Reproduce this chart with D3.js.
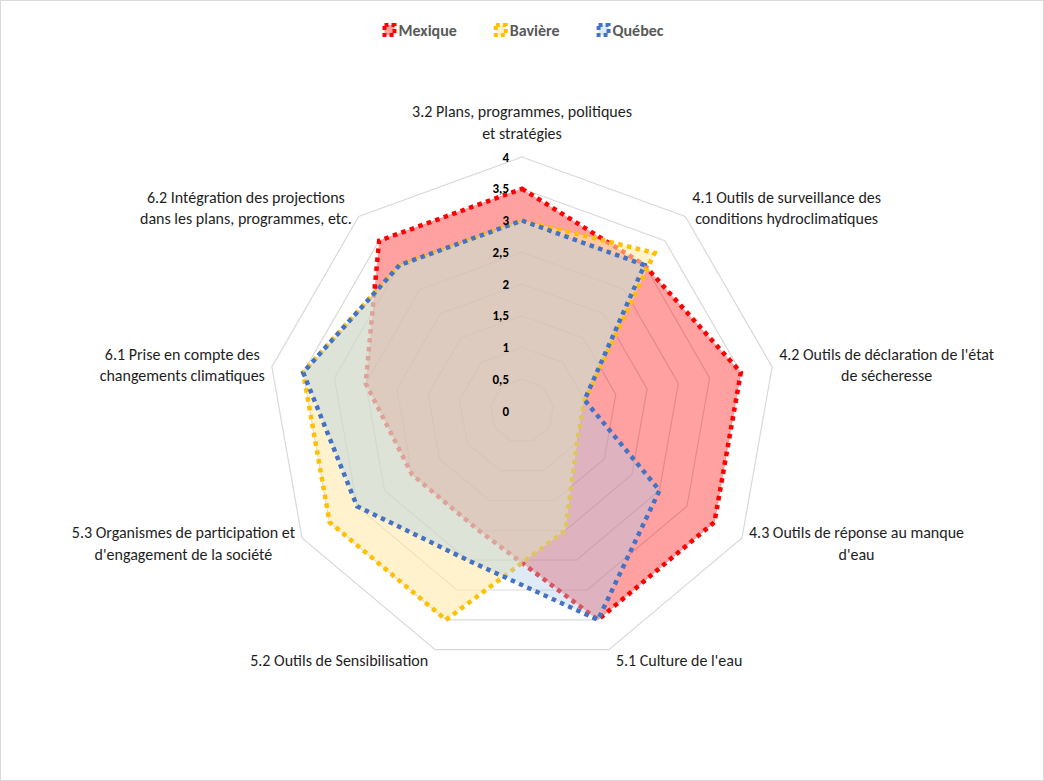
<!DOCTYPE html>
<html>
<head>
<meta charset="utf-8">
<script src="https://cdn.jsdelivr.net/npm/d3@7"></script>
<style>
  html, body { margin: 0; padding: 0; background: #fff; }
  svg { display: block; }
  text { font-family: Carlito, Lato, "Open Sans", sans-serif; }
</style>
</head>
<body>
<svg id="chart" width="1044" height="781"></svg>
<script>
// ---- Data ----
const categories = [
  ["3.2 Plans, programmes, politiques", "et stratégies"],
  ["4.1 Outils de surveillance des", "conditions hydroclimatiques"],
  ["4.2 Outils de déclaration de l'état", "de sécheresse"],
  ["4.3 Outils de réponse au manque", "d'eau"],
  ["5.1 Culture de l'eau"],
  ["5.2 Outils de Sensibilisation"],
  ["5.3 Organismes de participation et", "d'engagement de la société"],
  ["6.1 Prise en compte des", "changements climatiques"],
  ["6.2 Intégration des projections", "dans les plans, programmes, etc."]
];
const seriesNames = ["Mexique", "Bavière", "Québec"];
const mexique = [3.5, 3, 3.5, 3.5, 3.5, 2, 2, 2.5, 3.5];
const baviere = [3, 3.25, 1, 1, 2, 3.5, 3.5, 3.5, 3];
const quebec  = [3, 3, 1, 2.5, 3.5, 2.5, 3, 3.5, 3];
const tickValues = [0, 0.5, 1, 1.5, 2, 2.5, 3, 3.5, 4];
const tickLabels = ["0", "0,5", "1", "1,5", "2", "2,5", "3", "3,5", "4"];

// ---- Styles ----
const lineColors = ["#FF0000", "#FFC000", "#4472C4"];
const fillColors = ["#FF0000", "rgb(255,233,167)", "rgb(172,205,235)"];
const fillOpac   = [0.37, 0.58, 0.40];
const seriesData = [mexique, baviere, quebec];

const W = 1044, H = 781;
const cx = 522, cy = 411, R = 254;
const svg = d3.select("#chart");

svg.append("rect").attr("x", 0.5).attr("y", 0.5).attr("width", W - 1).attr("height", H - 1)
  .attr("fill", "#fff").attr("stroke", "#d9d9d9").attr("stroke-width", 1);

const n = categories.length;
const rScale = d3.scaleLinear().domain([0, 4]).range([0, R]);
const angle = d3.scalePoint().domain(d3.range(n + 1)).range([0, 2 * Math.PI]);
const pt = (i, v) => {
  const a = angle(i % n);
  return [cx + rScale(v) * Math.sin(a), cy - rScale(v) * Math.cos(a)];
};

// font fitting helper
function fitSize(str, weight, target) {
  const t = svg.append("text").attr("font-size", 100).attr("font-weight", weight).text(str);
  const w = t.node().getComputedTextLength();
  t.remove();
  return 100 * target / w;
}
const labelSize = Math.min(16, fitSize("3.2 Plans, programmes, politiques", "normal", 247));
const legendSize = Math.min(16, fitSize("Mexique", "bold", 65));
const tickSize = 13;

// ---- Grid rings ----
const gridG = svg.append("g");
tickValues.filter(v => v > 0).forEach(v => {
  const pts = d3.range(n).map(i => pt(i, v));
  gridG.append("polygon")
    .attr("points", pts.map(p => p.join(",")).join(" "))
    .attr("fill", "none").attr("stroke", "#d9d9d9").attr("stroke-width", 1.2);
});

// ---- Series ----
const lineGen = d3.line().x(d => d[0]).y(d => d[1]).curve(d3.curveLinearClosed);
seriesData.forEach((vals, s) => {
  const pts = vals.map((v, i) => pt(i, v));
  svg.append("path").attr("d", lineGen(pts))
    .attr("fill", fillColors[s]).attr("fill-opacity", fillOpac[s]).attr("stroke", "none");
  svg.append("path").attr("d", lineGen(pts))
    .attr("fill", "none").attr("stroke", lineColors[s])
    .attr("stroke-width", 4.5).attr("stroke-dasharray", "4.5,4.5")
    .attr("stroke-linejoin", "miter");
});

// ---- Tick labels ----
const tickG = svg.append("g");
tickValues.forEach((v, k) => {
  tickG.append("text")
    .attr("x", cx - 13).attr("y", cy - rScale(v))
    .attr("dy", "0.35em")
    .attr("text-anchor", "end")
    .attr("font-size", tickSize).attr("font-weight", "bold").attr("fill", "#000")
    .text(tickLabels[k]);
});

// ---- Category labels ----
const lineH = 21.5;
categories.forEach((lines, i) => {
  const a = angle(i);
  const [vx, vy] = pt(i, 4);
  const t = svg.append("text").attr("font-size", labelSize).attr("fill", "#1e1e1e")
    .attr("text-anchor", "middle");
  lines.forEach((l, k) => t.append("tspan").attr("x", 0).attr("dy", k === 0 ? 0 : lineH).text(l));
  const w = d3.max(t.selectAll("tspan").nodes(), nd => nd.getComputedTextLength());
  const s = Math.sin(a), c = Math.cos(a);
  let x, yc;
  const boxH = (lines.length - 1) * lineH;
  if (Math.abs(s) < 0.1) {
    x = vx;
    yc = vy - 24 - boxH / 2;
  } else {
    x = vx + Math.sign(s) * (7 + w / 2);
    yc = vy - c * 11;
  }
  const y0 = yc - boxH / 2;
  t.attr("transform", `translate(${x},${y0})`);
  t.selectAll("tspan").attr("dominant-baseline", "central");
});

// ---- Legend ----
const legG = svg.append("g");
const markerW = 14, markerGap = 2, itemGap = 37;
const items = seriesNames.map((name, s) => {
  const t = legG.append("text").attr("font-size", legendSize).attr("font-weight", "bold")
    .attr("fill", "#595959").attr("dominant-baseline", "central").text(name);
  return { t, w: t.node().getComputedTextLength(), s };
});
const total = d3.sum(items, d => markerW + markerGap + d.w) + itemGap * (items.length - 1);
let lx = 523 - total / 2;
const ly = 30;
items.forEach(d => {
  legG.append("rect").attr("x", lx + 2).attr("y", ly - 5).attr("width", 10).attr("height", 10)
    .attr("fill", fillColors[d.s]).attr("fill-opacity", fillOpac[d.s])
    .attr("stroke", lineColors[d.s]).attr("stroke-width", 4)
    .attr("stroke-dasharray", "4,3");
  d.t.attr("x", lx + markerW + markerGap).attr("y", ly);
  lx += markerW + markerGap + d.w + itemGap;
});
</script>
</body>
</html>
